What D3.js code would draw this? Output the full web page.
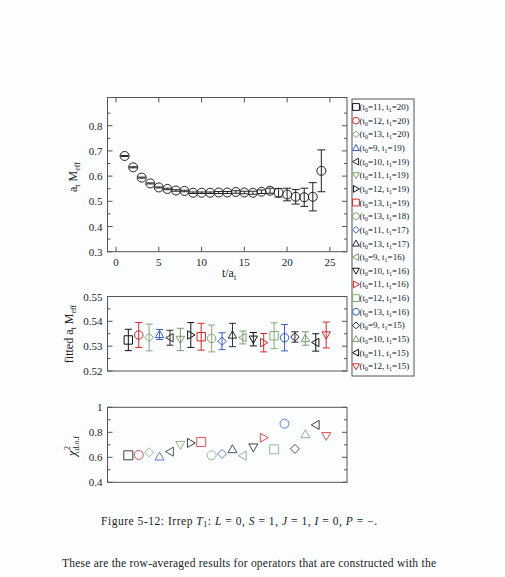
<!DOCTYPE html>
<html>
<head>
<meta charset="utf-8">
<script src="https://cdn.jsdelivr.net/npm/d3@7"></script>
<style>
  body { margin: 0; background: #fcfdfe; }
  svg { display: block; }
  text { font-family: "Liberation Serif", "DejaVu Serif", serif; fill: #222; }
</style>
</head>
<body>
<div id="chart"></div>
<script>
// effective mass vs t/a_t
var tVals    = [1, 2, 3, 4, 5, 6, 7, 8, 9, 10, 11, 12, 13, 14, 15, 16, 17, 18, 19, 20, 21, 22, 23, 24];
var meffVals = [0.680, 0.635, 0.594, 0.571, 0.555, 0.549, 0.543, 0.541, 0.534, 0.534, 0.534, 0.535,
                0.535, 0.537, 0.535, 0.534, 0.538, 0.542, 0.534, 0.527, 0.518, 0.516, 0.518, 0.621];
var meffErr  = [0.002, 0.002, 0.002, 0.002, 0.002, 0.003, 0.003, 0.003, 0.003, 0.003, 0.003, 0.004,
                0.004, 0.005, 0.005, 0.006, 0.007, 0.010, 0.017, 0.025, 0.029, 0.036, 0.056, 0.083];

// fit windows
var fitT0 = [11, 12, 13, 9, 10, 11, 12, 13, 13, 11, 13, 9, 10, 11, 12, 13, 9, 10, 11, 12];
var fitT1 = [20, 20, 20, 19, 19, 19, 19, 19, 18, 17, 17, 16, 16, 16, 16, 16, 15, 15, 15, 15];
var fitVals = [0.5325, 0.5345, 0.5335, 0.5347, 0.5334, 0.5327, 0.5345, 0.5338, 0.5331, 0.5320,
               0.5345, 0.5335, 0.5328, 0.5314, 0.5342, 0.5334, 0.5337, 0.5331, 0.5315, 0.5345];
var fitErr  = [0.0043, 0.0050, 0.0054, 0.0020, 0.0030, 0.0045, 0.0050, 0.0054, 0.0054, 0.0034,
               0.0047, 0.0026, 0.0027, 0.0037, 0.0052, 0.0053, 0.0021, 0.0027, 0.0035, 0.0052];
var chi2Vals = [0.616, 0.619, 0.640, 0.605, 0.645, 0.700, 0.715, 0.723, 0.616, 0.627,
                0.664, 0.613, 0.680, 0.757, 0.664, 0.869, 0.667, 0.784, 0.859, 0.771];

var shapes = ["square", "circle", "diamond", "up", "left", "down", "right"];
var colours = ["#111111", "#d42a2a", "#86a878", "#3a5ec8", "#2a2a2a", "#7f9a70"];

var topYTicks = [0.3, 0.4, 0.5, 0.6, 0.7, 0.8];
var topXTicks = [0, 5, 10, 15, 20, 25];
var midYTicks = [0.52, 0.53, 0.54, 0.55];
var botYTicks = [0.4, 0.6, 0.8, 1];

var W = 505, H = 577;
var left = 107.5, right = 347;

var svg = d3.select("#chart").append("svg")
  .attr("width", W).attr("height", H);

// marker path, centred at 0,0
function marker(shape, s) {
  if (shape == "square") return "M" + (-s) + "," + (-s) + "h" + 2*s + "v" + 2*s + "h" + (-2*s) + "Z";
  if (shape == "circle") return "M" + s + ",0A" + s + "," + s + " 0 1,1 " + (-s) + ",0A" + s + "," + s + " 0 1,1 " + s + ",0Z";
  if (shape == "diamond") return "M0," + (-s) + "L" + s + ",0L0," + s + "L" + (-s) + ",0Z";
  if (shape == "up") return "M0," + (-s) + "L" + s + "," + (0.75*s) + "L" + (-s) + "," + (0.75*s) + "Z";
  if (shape == "down") return "M0," + s + "L" + s + "," + (-0.75*s) + "L" + (-s) + "," + (-0.75*s) + "Z";
  if (shape == "left") return "M" + (-s) + ",0L" + (0.75*s) + "," + (-s) + "L" + (0.75*s) + "," + s + "Z";
  return "M" + s + ",0L" + (-0.75*s) + "," + (-s) + "L" + (-0.75*s) + "," + s + "Z";
}

// frame + inward ticks on all sides
function panel(y, ticks, minors, fmt, xScale, xTicks) {
  var g = svg.append("g");
  var y0 = y.range()[0], y1 = y.range()[1];
  g.append("rect").attr("x", left).attr("y", y1).attr("width", right - left).attr("height", y0 - y1)
    .attr("fill", "none").attr("stroke", "#555").attr("stroke-width", 1);
  ticks.forEach(function(v) {
    g.append("line").attr("x1", left).attr("x2", left + 5).attr("y1", y(v)).attr("y2", y(v)).attr("stroke", "#555");
    g.append("line").attr("x1", right).attr("x2", right - 5).attr("y1", y(v)).attr("y2", y(v)).attr("stroke", "#555");
    g.append("text").attr("x", left - 5).attr("y", y(v) + 4).attr("text-anchor", "end")
      .attr("font-size", 11).text(fmt(v));
  });
  minors.forEach(function(v) {
    g.append("line").attr("x1", left).attr("x2", left + 3).attr("y1", y(v)).attr("y2", y(v)).attr("stroke", "#555");
    g.append("line").attr("x1", right).attr("x2", right - 3).attr("y1", y(v)).attr("y2", y(v)).attr("stroke", "#555");
  });
  if (xScale) {
    xTicks.forEach(function(v) {
      g.append("line").attr("x1", xScale(v)).attr("x2", xScale(v)).attr("y1", y0).attr("y2", y0 - 5).attr("stroke", "#555");
      g.append("line").attr("x1", xScale(v)).attr("x2", xScale(v)).attr("y1", y1).attr("y2", y1 + 5).attr("stroke", "#555");
      g.append("text").attr("x", xScale(v)).attr("y", y0 + 14).attr("text-anchor", "middle")
        .attr("font-size", 11).text(v);
    });
  }
  return g;
}

function errorBar(g, cx, yTop, yBot, cap, col) {
  g.append("line").attr("x1", cx).attr("x2", cx).attr("y1", yTop).attr("y2", yBot).attr("stroke", col);
  g.append("line").attr("x1", cx - cap).attr("x2", cx + cap).attr("y1", yTop).attr("y2", yTop).attr("stroke", col);
  g.append("line").attr("x1", cx - cap).attr("x2", cx + cap).attr("y1", yBot).attr("y2", yBot).attr("stroke", col);
}

// ---- top panel
var xTop = d3.scaleLinear().domain([-1, 27]).range([left, right]);
var yTop = d3.scaleLinear().domain([0.3, 0.912]).range([251.7, 97.5]);
var gTop = panel(yTop, topYTicks, [0.35, 0.45, 0.55, 0.65, 0.75, 0.85], d3.format(".1f"), xTop, topXTicks);

tVals.forEach(function(t, i) {
  var cx = xTop(t);
  errorBar(gTop, cx, yTop(meffVals[i] + meffErr[i]), yTop(meffVals[i] - meffErr[i]), 4, "#222");
  gTop.append("path").attr("transform", "translate(" + cx + "," + yTop(meffVals[i]) + ")")
    .attr("d", marker("circle", 4.5)).attr("fill", "none").attr("stroke", "#222");
});

var yl1 = gTop.append("text").attr("transform", "translate(77,177) rotate(-90)")
  .attr("text-anchor", "middle").attr("font-size", 12);
yl1.append("tspan").text("a");
yl1.append("tspan").attr("dy", 3).attr("font-size", 8).text("t");
yl1.append("tspan").attr("dy", -3).text(" M");
yl1.append("tspan").attr("dy", 3).attr("font-size", 8).text("eff");

var xl1 = gTop.append("text").attr("x", 229).attr("y", 277).attr("text-anchor", "middle").attr("font-size", 12);
xl1.append("tspan").text("t/a");
xl1.append("tspan").attr("dy", 3).attr("font-size", 8).text("t");

// ---- middle panel
var xFit = d3.scaleLinear().domain([-1, 22]).range([left, right]);
var yMid = d3.scaleLinear().domain([0.52, 0.55]).range([371, 296.5]);
var gMid = panel(yMid, midYTicks, [0.525, 0.535, 0.545], d3.format(".2f"));

fitVals.forEach(function(v, i) {
  var cx = xFit(i + 1), col = colours[i % colours.length];
  errorBar(gMid, cx, yMid(v + fitErr[i]), yMid(v - fitErr[i]), 3.5, col);
  gMid.append("path").attr("transform", "translate(" + cx + "," + yMid(v) + ")")
    .attr("d", marker(shapes[i % shapes.length], 4.2)).attr("fill", "none").attr("stroke", col);
});

var yl2 = gMid.append("text").attr("transform", "translate(73,334) rotate(-90)")
  .attr("text-anchor", "middle").attr("font-size", 12);
yl2.append("tspan").text("fitted a");
yl2.append("tspan").attr("dy", 3).attr("font-size", 8).text("t");
yl2.append("tspan").attr("dy", -3).text(" M");
yl2.append("tspan").attr("dy", 3).attr("font-size", 8).text("eff");

// ---- bottom panel
var yBot = d3.scaleLinear().domain([0.4, 1]).range([482.3, 407.3]);
var gBot = panel(yBot, botYTicks, [0.5, 0.7, 0.9], function(v) { return v == 1 ? "1" : d3.format(".1f")(v); });

chi2Vals.forEach(function(v, i) {
  gBot.append("path").attr("transform", "translate(" + xFit(i + 1) + "," + yBot(v) + ")")
    .attr("d", marker(shapes[i % shapes.length], 4.5)).attr("fill", "none")
    .attr("stroke", colours[i % colours.length]).attr("stroke-opacity", 0.8);
});

// chi^2_dof label: superscript 2 stacked over subscript d.o.f
var yl3 = gBot.append("text").attr("transform", "translate(76,446) rotate(-90)")
  .attr("text-anchor", "middle").attr("font-size", 13);
yl3.append("tspan").attr("font-style", "italic").text("χ");
yl3.append("tspan").attr("dy", -6).attr("dx", 0.5).attr("font-size", 8).text("2");
yl3.append("tspan").attr("dy", 9).attr("dx", -4.5).attr("font-size", 8).text("d.o.f");

// ---- legend
var leg = svg.append("g");
leg.append("rect").attr("x", 352).attr("y", 99).attr("width", 62).attr("height", 277)
  .attr("fill", "none").attr("stroke", "#555");
fitT0.forEach(function(t0, i) {
  var ly = 107 + i * 13.65, col = colours[i % colours.length];
  leg.append("path").attr("transform", "translate(356," + ly + ")")
    .attr("d", marker(shapes[i % shapes.length], 3.4)).attr("fill", "none").attr("stroke", col);
  var tx = leg.append("text").attr("x", 359.5).attr("y", ly + 3).attr("font-size", 9);
  tx.append("tspan").text("(t");
  tx.append("tspan").attr("dy", 2).attr("font-size", 6).text("0");
  tx.append("tspan").attr("dy", -2).text("=" + t0 + ", t");
  tx.append("tspan").attr("dy", 2).attr("font-size", 6).text("1");
  tx.append("tspan").attr("dy", -2).text("=" + fitT1[i] + ")");
});

// ---- caption and body text
var cap = svg.append("text").attr("x", 101).attr("y", 525).attr("font-size", 11.5)
  .attr("textLength", 276).attr("lengthAdjust", "spacing");
cap.append("tspan").text("Figure 5-12: Irrep ");
cap.append("tspan").attr("font-style", "italic").text("T");
cap.append("tspan").attr("dy", 2).attr("font-size", 8).text("1");
cap.append("tspan").attr("dy", -2).text(": ");
cap.append("tspan").attr("font-style", "italic").text("L");
cap.append("tspan").text(" = 0, ");
cap.append("tspan").attr("font-style", "italic").text("S");
cap.append("tspan").text(" = 1, ");
cap.append("tspan").attr("font-style", "italic").text("J");
cap.append("tspan").text(" = 1, ");
cap.append("tspan").attr("font-style", "italic").text("I");
cap.append("tspan").text(" = 0, ");
cap.append("tspan").attr("font-style", "italic").text("P");
cap.append("tspan").text(" = −.");

svg.append("text").attr("x", 62).attr("y", 567).attr("font-size", 11.5)
  .attr("textLength", 374).attr("lengthAdjust", "spacing")
  .text("These are the row-averaged results for operators that are constructed with the");
</script>
</body>
</html>
